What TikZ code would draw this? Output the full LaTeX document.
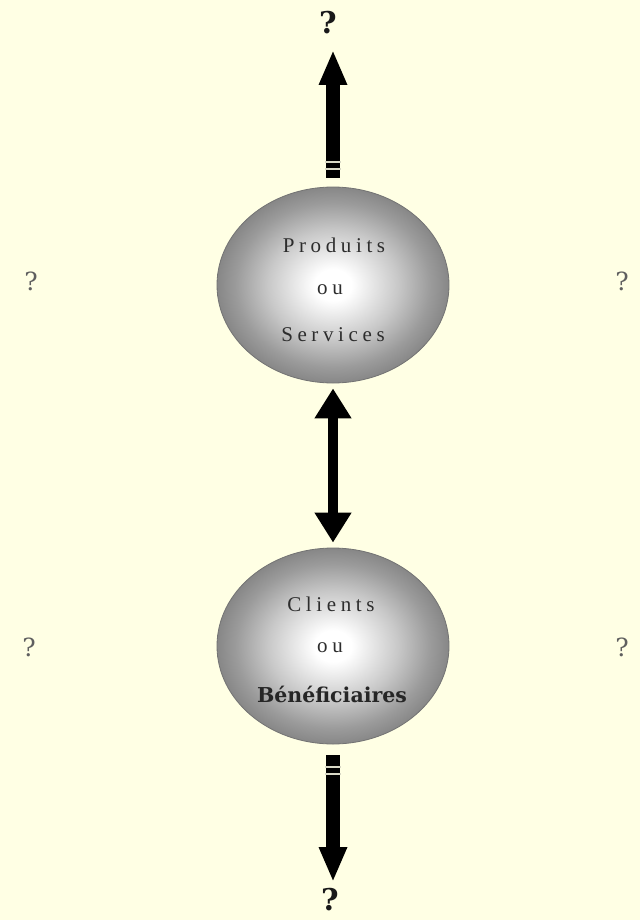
\documentclass[tikz,border=0pt]{standalone}
\usepackage{fontspec}
\setmainfont{Liberation Serif}
\newfontfamily\dvserif{DejaVu Serif}
\newfontfamily\spacedserif[LetterSpace=22]{Liberation Serif}
\usetikzlibrary{shapes.geometric,arrows.meta}
\definecolor{bgyellow}{RGB}{255,255,228}
\definecolor{ballouter}{RGB}{135,135,135}
\definecolor{ballmid}{RGB}{200,200,200}
\definecolor{ballmid2}{RGB}{155,155,155}
\definecolor{ballrim}{RGB}{115,115,115}
\definecolor{qgray}{RGB}{95,95,95}
\definecolor{txtgray}{RGB}{45,45,45}
\pgfdeclareradialshading{ballgray}{\pgfpoint{0bp}{0bp}}{%
  color(0bp)=(white); color(4bp)=(white); color(14bp)=(ballmid);
  color(21bp)=(ballmid2); color(25bp)=(ballouter); color(50bp)=(ballouter)}
\tikzset{
  ball/.style={ellipse, minimum width=232pt, minimum height=196pt, inner sep=0pt,
    shading=ballgray, draw=ballrim, line width=0.8pt},
  spaced/.style={font=\spacedserif\fontsize{21}{24}\selectfont, text=txtgray, inner sep=0pt},
  boldlabel/.style={font=\dvserif\bfseries\fontsize{20.5}{23}\selectfont, text=black!85, inner sep=0pt},
  bigq/.style={font=\dvserif\bfseries\fontsize{30}{34}\selectfont, text=black!90, inner sep=0pt},
  sideq/.style={font=\dvserif\fontsize{25}{28}\selectfont, text=qgray, inner sep=0pt},
  fatarrow/.style={line width=14pt, -{Triangle[width=26pt,length=35pt]}},
  dblarrow/.style={line width=10pt, {Triangle[width=35pt,length=30pt]}-{Triangle[width=35pt,length=30pt]}},
  stripe/.style={draw=bgyellow!70!gray, line width=1.4pt}
}
\begin{document}
\begin{tikzpicture}[x=1pt,y=-1pt]
\useasboundingbox[fill=bgyellow] (0,0) rectangle (640,920);
% balls
\node[ball] (P) at (333,285) {};
\node[ball] (C) at (333,646) {};
% texts in balls
\node[spaced] (p1) at (334,245) {Produits};
\node[spaced] (p2) at (330,290) {ou};
\node[spaced] (p3) at (333,335) {Services};
\node[spaced] (c1) at (331,604) {Clients};
\node[spaced] (c2) at (330,648) {ou};
\node[boldlabel] (c3) at (332,694) {Bénéficiaires};
% question marks
\node[bigq] (qtop) at (328,23) {?};
\node[bigq] (qbot) at (330,900) {?};
\node[sideq] (ql1) at (31,281) {?};
\node[sideq] (qr1) at (622,281) {?};
\node[sideq] (ql2) at (29,647) {?};
\node[sideq] (qr2) at (622,647) {?};
% arrows
\coordinate (ttail) at (333,178);
\coordinate (ttip) at (333,50);
\coordinate (btail) at (333,755);
\coordinate (btip) at (333,882);
\draw[fatarrow] (ttail) -- (ttip);
\draw[fatarrow] (btail) -- (btip);
\draw[dblarrow, shorten <=5pt, shorten >=5pt] (P.south) -- (C.north);
% tail stripes
\draw[stripe] (325,162) -- (341,162);
\draw[stripe] (325,169) -- (341,169);
\draw[stripe] (325,767) -- (341,767);
\draw[stripe] (325,774) -- (341,774);
\end{tikzpicture}
\end{document}
